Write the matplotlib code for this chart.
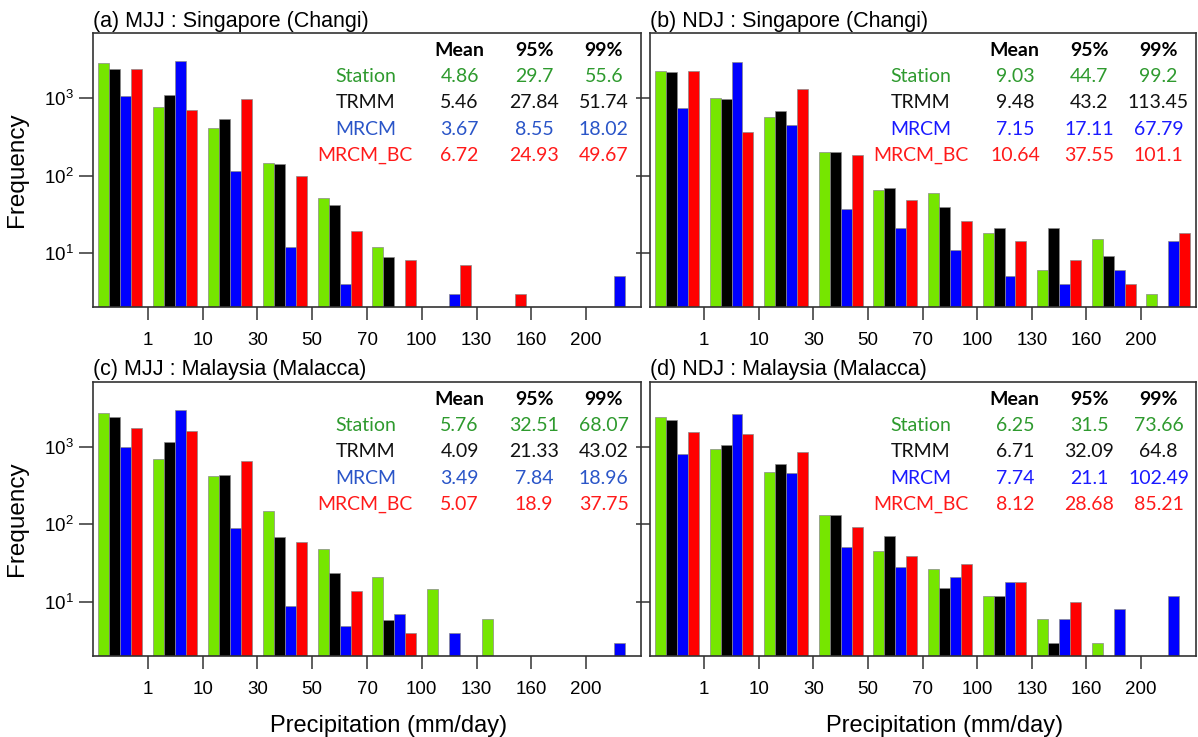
import numpy as np
import matplotlib
matplotlib.use("Agg")
import matplotlib.pyplot as plt
from matplotlib.ticker import NullLocator

plt.rcParams['font.family'] = ['Liberation Sans', 'DejaVu Sans']
plt.rcParams['mathtext.default'] = 'regular'

# ---------------- data ----------------
bin_labels = ["1", "10", "30", "50", "70", "100", "130", "160", "200"]
series_names = ["Station", "TRMM", "MRCM", "MRCM_BC"]
stat_headers = ["Mean", "95%", "99%"]

# (a) MJJ Singapore (Changi)
a_station = [2770, 751, 403, 144, 51.5, 12.1, 0, 0, 0, 0]
a_trmm    = [2340, 1083, 526, 139, 42.4, 9.05, 0, 0, 0, 0]
a_mrcm    = [1040, 2940, 115, 12.1, 4.03, 0, 3.03, 0, 0, 5.06]
a_mrcm_bc = [2360, 693, 952, 98, 19.2, 8.1, 7.08, 3.03, 0, 0]
a_stats = [["4.86", "29.7", "55.6"], ["5.46", "27.84", "51.74"],
           ["3.67", "8.55", "18.02"], ["6.72", "24.93", "49.67"]]

# (b) NDJ Singapore (Changi)
b_station = [2230, 1000, 564, 198, 66.1, 60.4, 18.3, 6.1, 15.1, 3.03]
b_trmm    = [2140, 961, 681, 198, 68.7, 39.5, 21.2, 21.2, 9.1, 0]
b_mrcm    = [730, 2850, 441, 37.3, 21.2, 11.1, 5.1, 4.06, 6.1, 14.3]
b_mrcm_bc = [2180, 361, 1306, 184, 48.7, 26.4, 14.3, 8.2, 4.06, 18.3]
b_stats = [["9.03", "44.7", "99.2"], ["9.48", "43.2", "113.45"],
           ["7.15", "17.11", "67.79"], ["10.64", "37.55", "101.1"]]

# (c) MJJ Malaysia (Malacca)
c_station = [2680, 695, 416, 147.6, 48, 20.9, 15.0, 6.05, 0, 0]
c_trmm    = [2400, 1148, 432, 68.4, 23.8, 5.98, 0, 0, 0, 0]
c_mrcm    = [990, 2960, 91, 8.98, 5.0, 7.0, 4.0, 0, 0, 3.0]
c_mrcm_bc = [1755, 1589, 661, 59, 14.1, 4.0, 0, 0, 0, 0]
c_stats = [["5.76", "32.51", "68.07"], ["4.09", "21.33", "43.02"],
           ["3.49", "7.84", "18.96"], ["5.07", "18.9", "37.75"]]

# (d) NDJ Malaysia (Malacca)
d_station = [2360, 924, 473, 133.7, 45.2, 27.1, 12.2, 6.1, 3.03, 0]
d_trmm    = [2180, 1040, 588, 133.7, 71.9, 15.1, 12.2, 3.03, 0, 0]
d_mrcm    = [813, 2655, 459, 51.4, 28.2, 21.1, 18.2, 6.1, 8.1, 12.05]
d_mrcm_bc = [1542, 1469, 854, 93.7, 39.4, 31.4, 18.2, 10.2, 0, 0]
d_stats = [["6.25", "31.5", "73.66"], ["6.71", "32.09", "64.8"],
           ["7.74", "21.1", "102.49"], ["8.12", "28.68", "85.21"]]

titles = ["(a) MJJ : Singapore (Changi)", "(b) NDJ : Singapore (Changi)",
          "(c) MJJ : Malaysia (Malacca)", "(d) NDJ : Malaysia (Malacca)"]

# ---------------- style ----------------
bar_colors = ["#76e600", "#000000", "#0000ff", "#ff0000"]
text_colors_left = ["#2e9a2e", "#111111", "#2a55c8", "#ff1a1a"]
text_colors_right = ["#2e9a2e", "#111111", "#1a1aff", "#ff1a1a"]
frame_color = "#333333"

W, H = 1198, 737
fig = plt.figure(figsize=(W / 100, H / 100), dpi=100)

def rect(l, t, r, b):
    return [l / W, 1 - b / H, (r - l) / W, (b - t) / H]

positions = [rect(93, 33, 641, 307), rect(649.6, 33, 1195.6, 307),
             rect(93, 381.7, 641, 656), rect(649.6, 381.7, 1195.6, 656)]

panels = [
    (a_station, a_trmm, a_mrcm, a_mrcm_bc, a_stats),
    (b_station, b_trmm, b_mrcm, b_mrcm_bc, b_stats),
    (c_station, c_trmm, c_mrcm, c_mrcm_bc, c_stats),
    (d_station, d_trmm, d_mrcm, d_mrcm_bc, d_stats),
]

table_font = ['Lato', 'DejaVu Sans']
col_x = [0.669, 0.805, 0.932]
label_x = 0.497
row_y = [0.8405, 0.7456, 0.6485, 0.552]
head_y = 0.935

for i, (pos, panel) in enumerate(zip(positions, panels)):
    ax = fig.add_axes(pos)
    series = panel[:4]
    stats = panel[4]
    n = len(series[0])
    groups = np.arange(n)
    width = 0.2
    for k, vals in enumerate(series):
        vals = np.asarray(vals, dtype=float)
        mask = vals > 0
        ax.bar(groups[mask] + (k - 1.5) * width, vals[mask], width=width,
               color=bar_colors[k], edgecolor="#8a8a8a", linewidth=0.5,
               bottom=1e-3, zorder=2)
    ax.set_yscale('log')
    ax.set_ylim(2.04, 6800)
    ax.set_xlim(-0.5, n - 0.5)
    ax.set_yticks([10, 100, 1000])
    ax.set_yticklabels([r'$10^1$', r'$10^2$', r'$10^3$'])
    ax.yaxis.set_minor_locator(NullLocator())
    ax.set_xticks(np.arange(len(bin_labels)) + 0.5)
    ax.set_xticklabels(bin_labels)
    ax.tick_params(axis='x', length=9, width=1.1, color=frame_color,
                   pad=9, labelsize=13.5)
    ax.tick_params(axis='y', length=10, width=1.1, color=frame_color,
                   pad=4, labelsize=13.5)
    for sp in ax.spines.values():
        sp.set_color(frame_color)
        sp.set_linewidth(1.2)
    ax.set_title(titles[i], loc='left', fontsize=15.5, pad=4.5)
    if i % 2 == 0:
        ax.set_ylabel("Frequency", fontsize=17.5, labelpad=11)
    else:
        ax.tick_params(axis='y', labelleft=False)
    if i >= 2:
        ax.set_xlabel("Precipitation (mm/day)", fontsize=17, labelpad=4)
        ax.xaxis.set_label_coords(0.54, -0.215)

    tcolors = text_colors_left if i % 2 == 0 else text_colors_right
    for j, h in enumerate(stat_headers):
        ax.text(col_x[j], head_y, h, transform=ax.transAxes, ha='center',
                va='center', fontsize=14, fontweight='bold',
                family=table_font, color='black')
    for r, name in enumerate(series_names):
        ax.text(label_x, row_y[r], name, transform=ax.transAxes,
                ha='center', va='center', fontsize=14, family=table_font,
                color=tcolors[r])
        for j in range(3):
            ax.text(col_x[j], row_y[r], stats[r][j], transform=ax.transAxes,
                    ha='center', va='center', fontsize=14,
                    family=table_font, color=tcolors[r])

fig.savefig("out.png", dpi=100)
